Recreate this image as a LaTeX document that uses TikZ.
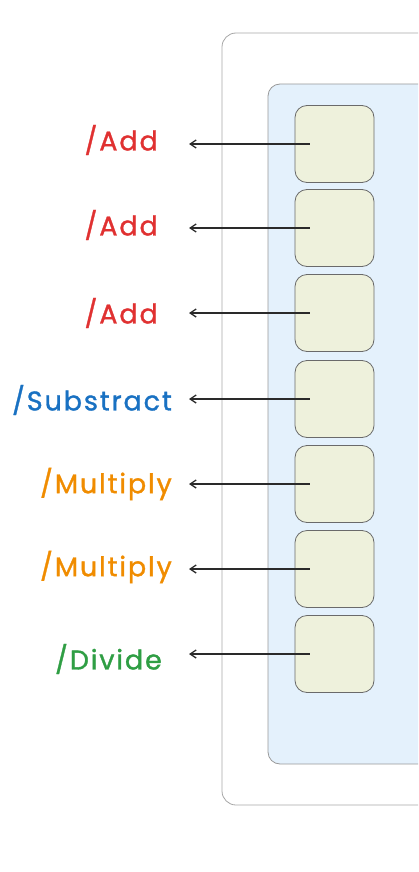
\documentclass[tikz,border=0pt]{standalone}
\usepackage{fontspec}
\setmainfont{Poppins}[LetterSpace=7,FakeBold=1.2]
\usetikzlibrary{arrows.meta}
\definecolor{cred}{HTML}{E03131}
\definecolor{cblue}{HTML}{1971C2}
\definecolor{corange}{HTML}{F08C00}
\definecolor{cgreen}{HTML}{2F9E44}
\definecolor{panelfill}{HTML}{E4F1FC}
\definecolor{boxfill}{HTML}{EEF1DC}
\definecolor{ink}{HTML}{2A2A2A}
\tikzset{
  cell/.style={draw=ink!70, line width=0.8pt, fill=boxfill, rounded corners=12pt, minimum width=79pt, minimum height=77pt, inner sep=0pt},
  lbl/.style={anchor=east, font=\fontsize{27}{30}\selectfont, inner sep=0pt},
  conn/.style={draw=ink, line width=1.3pt, -{Straight Barb[length=6pt,width=8pt]}}
}
\begin{document}
\begin{tikzpicture}[x=1pt,y=-1pt]
\useasboundingbox (0,0) rectangle (418,872);
\begin{scope}
\clip (0,0) rectangle (418,872);
\draw[draw=gray!70, line width=0.8pt, rounded corners=14pt] (222,33) rectangle (450,805);
\draw[draw=gray!80, line width=0.8pt, fill=panelfill, rounded corners=12pt] (268,84) rectangle (450,764);
\end{scope}
\node[cell] (b1) at (334.5,144) {};
\node[cell] (b2) at (334.5,228) {};
\node[cell] (b3) at (334.5,313) {};
\node[cell] (b4) at (334.5,399) {};
\node[cell] (b5) at (334.5,484) {};
\node[cell] (b6) at (334.5,569) {};
\node[cell] (b7) at (334.5,654) {};
\node[lbl, text=cred] (l1) at (158,140) {/Add};
\node[lbl, text=cred] (l2) at (158,225) {/Add};
\node[lbl, text=cred] (l3) at (158,313) {/Add};
\node[lbl, text=cblue] (l4) at (172,400) {/Substract};
\node[lbl, text=corange] (l5) at (172,484) {/Multiply};
\node[lbl, text=corange] (l6) at (172,567) {/Multiply};
\node[lbl, text=cgreen] (l7) at (162,659) {/Divide};
\foreach \i in {1,...,7}{
  \coordinate (t\i) at (189,0);
  \draw[conn] ([xshift=-25pt]b\i.center) -- (t\i |- b\i.center);
}
\end{tikzpicture}
\end{document}
